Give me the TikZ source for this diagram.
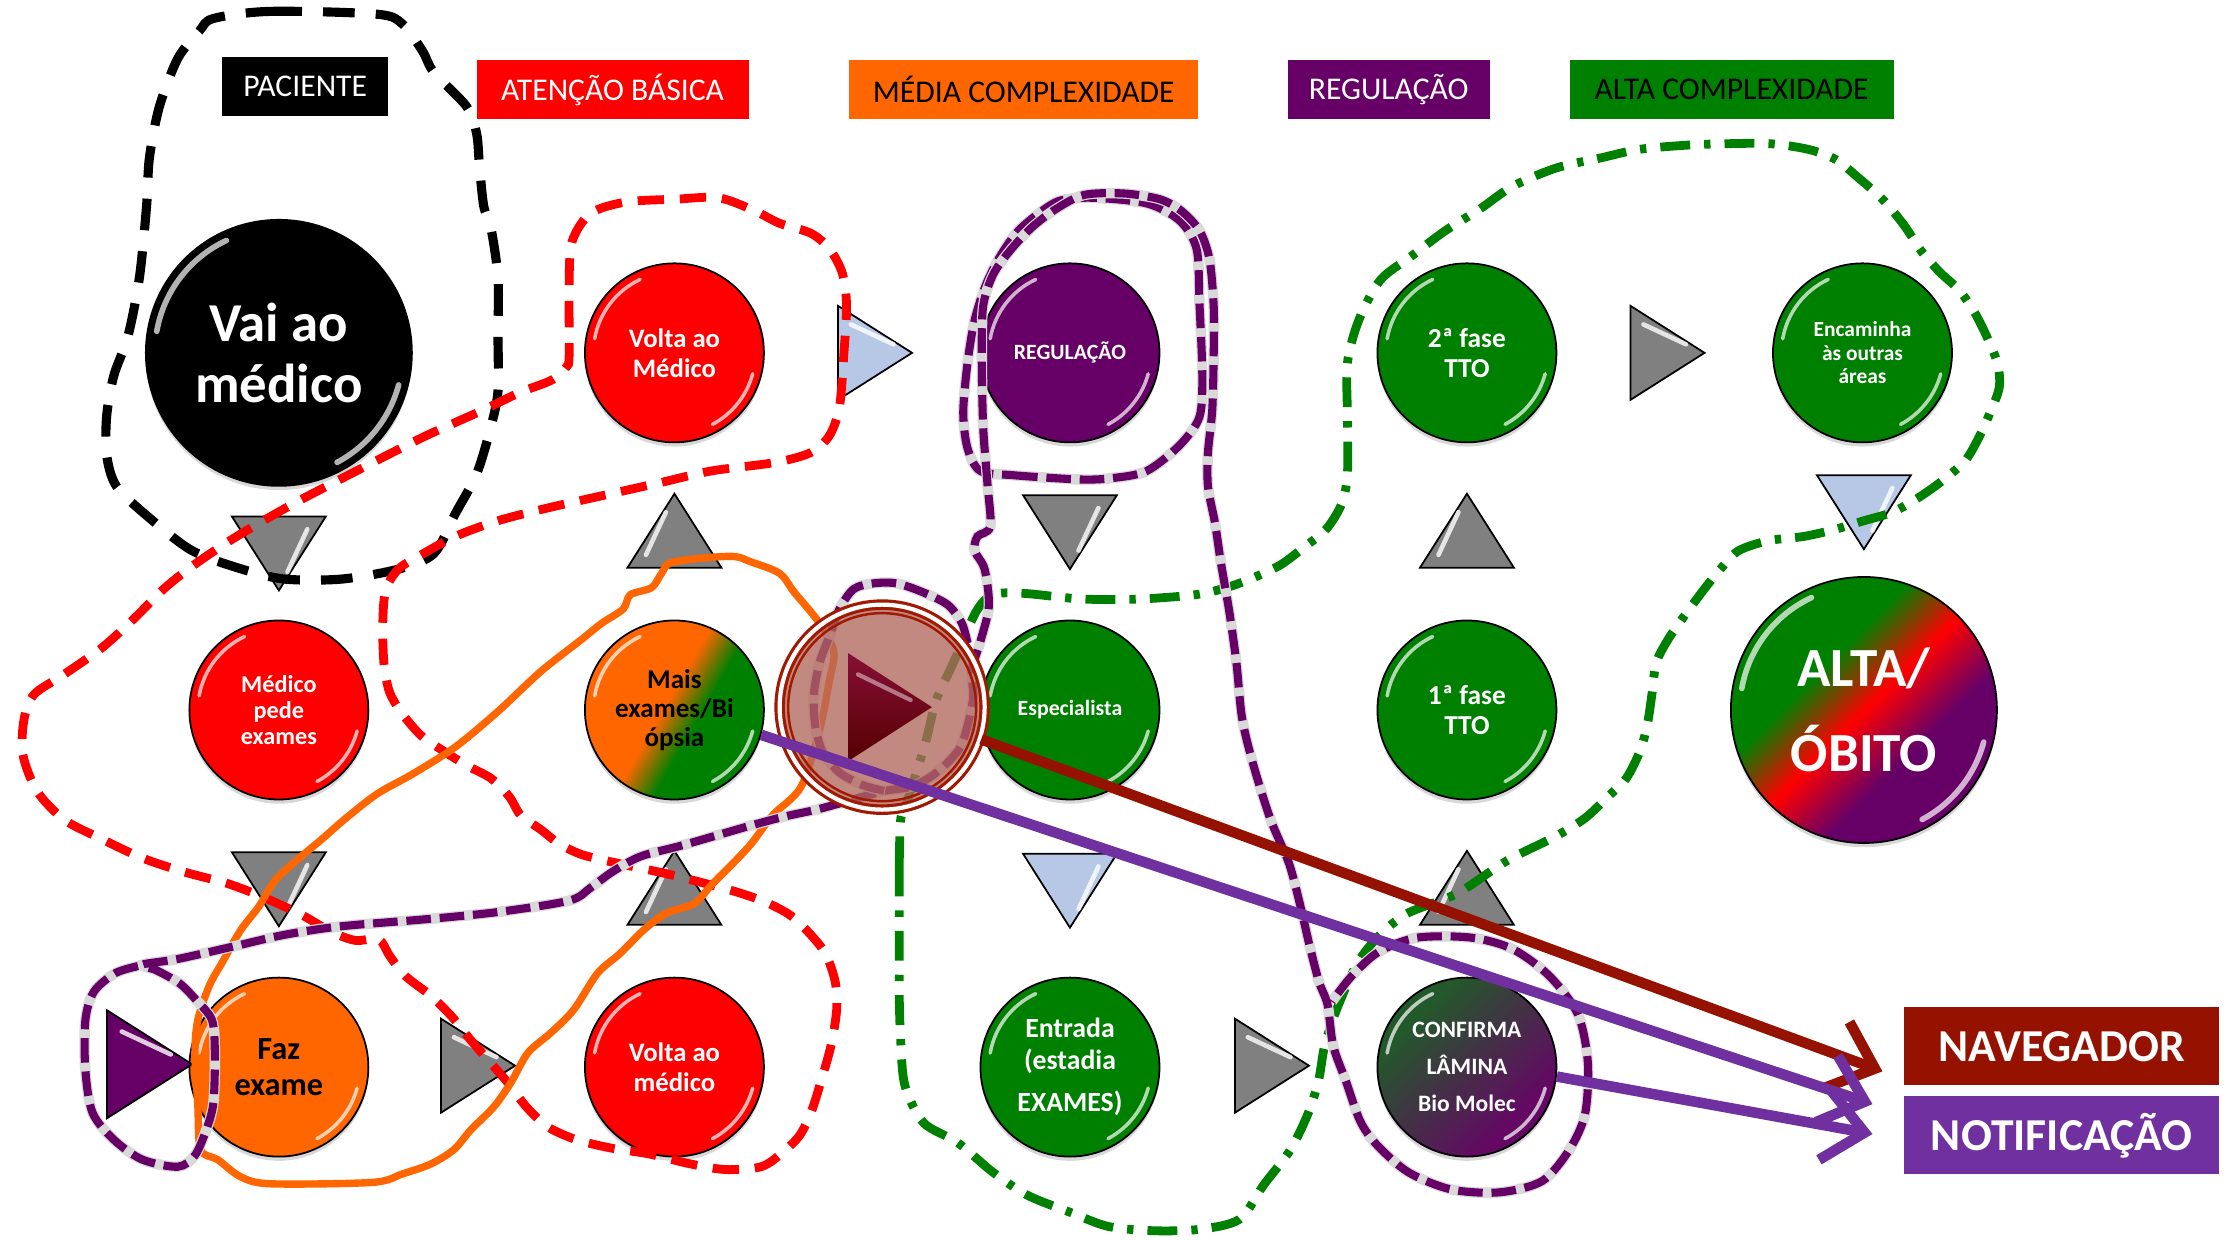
\documentclass[tikz,border=0pt]{standalone}
\usepackage{fontspec}
\setmainfont{Carlito}
\usetikzlibrary{arrows.meta,shadows}

\definecolor{abred}{RGB}{255,0,0}
\definecolor{mcorange}{RGB}{255,102,0}
\definecolor{regpurple}{RGB}{102,0,102}
\definecolor{acgreen}{RGB}{0,128,0}
\definecolor{navred}{RGB}{150,18,0}
\definecolor{notpurple}{RGB}{112,48,160}
\definecolor{triblue}{RGB}{182,200,230}
\definecolor{trigray}{RGB}{128,128,128}
\definecolor{playfill}{RGB}{178,104,94}
\definecolor{playring}{RGB}{160,25,0}
\definecolor{playtop}{RGB}{135,15,55}
\definecolor{playbot}{RGB}{85,0,0}
\definecolor{confgreen}{RGB}{35,88,42}
\definecolor{confpurple}{RGB}{100,8,100}

\pgfdeclareverticalshading{maisshade}{100bp}{color(0bp)=(acgreen); color(43bp)=(acgreen); color(53bp)=(mcorange); color(100bp)=(mcorange)}
\pgfdeclareverticalshading{altashade}{100bp}{color(0bp)=(regpurple); color(38bp)=(regpurple); color(50bp)=(abred); color(61bp)=(acgreen); color(100bp)=(acgreen)}
\pgfdeclareverticalshading{confshade}{100bp}{color(0bp)=(confpurple); color(30bp)=(confpurple); color(70bp)=(confgreen); color(100bp)=(confgreen)}

\tikzset{
  stage/.style={circle, draw=black, line width=0.5pt, minimum size=1.79cm, inner sep=0pt,
    align=center, text=white, font=\bfseries\fontsize{7.6}{8.5}\selectfont,
    drop shadow={shadow xshift=0pt, shadow yshift=-1.2pt, opacity=0.3}},
  bigstage/.style={stage, minimum size=2.66cm, font=\bfseries\fontsize{15.6}{17.4}\selectfont},
  gloss/.style={white, opacity=0.7, line cap=round},
  lbl/.style={rectangle, minimum height=0.59cm, inner sep=0pt, font=\fontsize{9}{11}\selectfont},
  tag/.style={rectangle, minimum width=3.15cm, minimum height=0.78cm, inner sep=0pt, text=white,
    font=\bfseries\fontsize{13}{15}\selectfont},
  tri/.style={draw=black, line width=0.5pt},
  graytri/.style={tri, fill=trigray},
  bluetri/.style={tri, fill=triblue},
  purptri/.style={tri, fill=regpurple},
  trigloss/.style={white, line width=1.3pt, line cap=round, opacity=0.8},
  pacline/.style={black, line width=2.6pt, dash pattern=on 9pt off 6pt},
  abline/.style={abred, line width=2.5pt, dash pattern=on 7.5pt off 4.5pt},
  mcline/.style={mcorange, line width=2.1pt, line join=round},
  regline/.style={regpurple, line width=2.3pt, dash pattern=on 7pt off 2.5pt,
    preaction={draw=black!15, line width=3pt, solid}},
  acline/.style={acgreen, line width=2.5pt, dash pattern=on 8.5pt off 4pt on 1.8pt off 4pt},
  playbtn/.style={circle, minimum size=2.05cm, inner sep=0pt, fill=playfill, fill opacity=0.78,
    draw=playring, line width=0.9pt, double=white, double distance=1.2pt},
  navarrow/.style={navred, line width=3pt, -{Straight Barb[length=4mm,width=7mm]}},
  notarrow/.style={notpurple, line width=3pt, -{Straight Barb[length=4mm,width=7mm]}}
}

% small glossy arrow between two stages
\newcommand{\flowtri}[4][1]{%
  \begin{scope}[shift={#3}, rotate=#4, scale=#1]
    \draw[#2] (0,0) -- (-52,-33) -- (-52,33) -- cycle;
    \draw[trigloss] (-43,-20) -- (-13,-6);
  \end{scope}}

\begin{document}
\begin{tikzpicture}[x=0.14228mm, y=-0.14228mm]
  \useasboundingbox (0,0) rectangle (1568,871);
  \fill[white] (0,0) rectangle (1568,871);

  \node[lbl, fill=black, text=white, minimum width=1.66cm] (lpac) at (214.5,61) {PACIENTE};
  \node[lbl, fill=abred, text=white, minimum width=2.72cm] (lab) at (430.5,63) {ATENÇÃO BÁSICA};
  \node[lbl, fill=mcorange, minimum width=3.49cm] (lmc) at (719.5,63) {MÉDIA COMPLEXIDADE};
  \node[lbl, fill=regpurple, text=white, minimum width=2.02cm] (lreg) at (976,63) {REGULAÇÃO};
  \node[lbl, fill=acgreen, minimum width=3.24cm] (lac) at (1217,63) {ALTA COMPLEXIDADE};

  \node[bigstage, fill=black] (vai) at (196,248) {Vai ao\\médico};
  \node[stage, fill=abred] (voltaA) at (474,248) {Volta ao\\Médico};
  \node[stage, fill=regpurple, font=\bfseries\fontsize{6.2}{7}\selectfont] (reg) at (752,248) {REGULAÇÃO};
  \node[stage, fill=acgreen, font=\bfseries\fontsize{7.8}{8.5}\selectfont] (fase2) at (1031,248) {2ª fase\\TTO};
  \node[stage, fill=acgreen, font=\bfseries\fontsize{6.1}{6.7}\selectfont] (enc) at (1309,248) {Encaminha\\às outras\\áreas};
  \node[stage, fill=abred, font=\bfseries\fontsize{6.9}{7.5}\selectfont] (pede) at (196,499) {Médico\\pede\\exames};
  \node[stage, shade, shading=maisshade, shading angle=60, text=black,
    font=\bfseries\fontsize{7.7}{8.3}\selectfont] (mais) at (474,499) {Mais\\exames/Bi\\ópsia};
  \node[stage, fill=acgreen, font=\bfseries\fontsize{6.2}{7}\selectfont] (esp) at (752,499) {Especialista};
  \node[stage, fill=acgreen, font=\bfseries\fontsize{7.8}{8.5}\selectfont] (fase1) at (1031,499) {1ª fase\\TTO};
  \node[bigstage, shade, shading=altashade, shading angle=45,
    font=\bfseries\fontsize{15.7}{24.3}\selectfont] (alta) at (1310,499) {ALTA/\\ÓBITO};
  \node[stage, fill=mcorange, text=black, font=\bfseries\fontsize{9.2}{10.1}\selectfont] (faz) at (196,750) {Faz\\exame};
  \node[stage, fill=abred] (voltaB) at (474,750) {Volta ao\\médico};
  \node[stage, fill=acgreen, font=\bfseries\fontsize{7.9}{8.9}\selectfont] (entr) at (752,750) {Entrada\\(estadia\\[3.2pt]EXAMES)};
  \node[stage, shade, shading=confshade, shading angle=45,
    font=\bfseries\fontsize{6.7}{10.5}\selectfont] (conf) at (1031,750) {CONFIRMA\\LÂMINA\\Bio Molec};

  \foreach \n/\r/\w in {vai/1.24/1.6, alta/1.24/1.6, voltaA/0.81/1, reg/0.81/1, fase2/0.81/1, enc/0.81/1,
      pede/0.81/1, mais/0.81/1, esp/0.81/1, fase1/0.81/1, faz/0.81/1, voltaB/0.81/1, entr/0.81/1, conf/0.81/1} {
    \draw[gloss, line width=\w pt] ([shift={(115:\r cm)}]\n.center) arc[start angle=115, end angle=170, radius=\r cm];
    \draw[gloss, line width=\w pt] ([shift={(-15:\r cm)}]\n.center) arc[start angle=-15, end angle=-62, radius=\r cm];
  }

  \flowtri{graytri}{(196,415)}{-90}
  \flowtri{graytri}{(474,347)}{90}
  \flowtri{bluetri}{(641,248)}{0}
  \flowtri{graytri}{(752,400)}{-90}
  \flowtri{graytri}{(1198,248)}{0}
  \flowtri{bluetri}{(1310,386)}{-90}
  \flowtri{graytri}{(1031,347)}{90}
  \flowtri{graytri}{(196,651)}{-90}
  \flowtri{graytri}{(474,598)}{90}
  \flowtri{bluetri}{(752,652)}{-90}
  \flowtri{graytri}{(1031,598)}{90}
  \flowtri{graytri}{(362,749)}{0}
  \flowtri{graytri}{(920,749)}{0}
  \flowtri[1.15]{purptri}{(135,748)}{0}

  \draw[pacline] plot[smooth cycle] coordinates {(150,13) (190,8) (265,10) (283,17) (297,36) (305,51)
    (328,75) (335,94) (337,117) (340,145) (345,160) (350,195) (350,236) (350,275) (345,300) (335,333)
    (320,361) (305,389) (280,400) (240,407) (200,407) (170,400) (135,387) (105,364) (82,342) (75,320)
    (75,292) (80,264) (90,236) (98,195) (103,145) (105,111) (112,75) (125,41) (140,22)};

  \draw[abline] plot[smooth cycle] coordinates {(400,250) (400,200) (402,170) (415,150) (440,142)
    (475,140) (505,139) (530,148) (548,157) (570,164) (583,175) (592,192) (595,215) (593,250) (590,286)
    (583,306) (570,318) (545,325) (500,331) (465,339) (425,348) (385,357) (350,366) (320,377) (296,390)
    (280,400) (271,415) (269,440) (270,468) (274,487) (283,502) (296,517) (312,528) (328,538) (345,547)
    (358,560) (366,573) (380,583) (393,593) (410,601) (440,608) (468,614) (496,621) (518,627) (538,634)
    (555,643) (568,655) (580,670) (587,690) (588,710) (584,735) (577,760) (570,782) (562,798) (550,810)
    (535,820) (510,822) (485,818) (456,811) (430,807) (405,801) (385,792) (370,778) (357,761) (343,745)
    (330,730) (318,715) (303,700) (285,686) (274,672) (266,660) (250,661) (233,655) (212,643) (186,631)
    (160,621) (130,613) (100,603) (70,589) (45,576) (26,556) (16,530) (17,505) (24,488) (45,474)
    (72,455) (95,434) (115,414) (135,398) (160,381) (185,366) (210,352) (235,339) (268,322) (300,306)
    (340,288) (365,276) (388,267) (398,258)};

  \draw[mcline] plot[smooth cycle] coordinates {(513,391) (528,395) (548,403) (558,416) (576,438)
    (586,458) (583,478) (576,513) (563,553) (543,573) (528,593) (513,609) (500,622) (488,635) (468,642)
    (452,654) (436,670) (420,684) (403,710) (387,726) (371,740) (359,761) (347,778) (331,794) (319,808)
    (303,818) (283,825) (262,831) (190,832) (169,827) (153,815) (141,808) (139,776) (137,740) (139,717)
    (147,693) (157,675) (169,654) (182,637) (194,618) (214,600) (226,590) (242,576) (265,558) (290,544)
    (320,525) (350,500) (380,472) (408,450) (423,438) (438,428) (443,418) (458,413) (465,403) (473,395)};

  \draw[acline] plot[smooth cycle] coordinates {(633,576) (632,609) (632,640) (632,672) (632,700)
    (633,731) (636,763) (649,789) (673,803) (698,824) (722,840) (752,852) (779,862) (811,865) (843,864)
    (871,857) (888,833) (907,808) (920,781) (927,758) (931,735) (940,708) (954,677) (969,658) (989,642)
    (1024,628) (1059,605) (1093,588) (1114,575) (1130,560) (1143,547) (1153,527) (1158,508) (1161,488)
    (1164,466) (1172,450) (1183,434) (1197,415) (1210,399) (1222,387) (1243,380) (1268,377) (1290,372)
    (1310,366) (1330,360) (1348,350) (1365,338) (1381,324) (1390,309) (1397,294) (1405,273) (1404,256)
    (1397,238) (1388,220) (1377,204) (1363,191) (1350,176) (1338,158) (1323,140) (1305,124) (1290,112)
    (1271,105) (1244,101) (1214,101) (1186,102) (1152,105) (1125,111) (1094,118) (1063,131) (1040,147)
    (1016,162) (992,180) (970,197) (955,225) (947,255) (947,293) (947,333) (943,354) (932,372) (916,385)
    (900,397) (881,406) (862,413) (840,418) (801,421) (760,421) (719,417) (698,418) (686,430) (670,466)
    (658,492) (651,520) (644,543) (637,565)};

  \draw[regline] plot[smooth cycle] coordinates {(689,331) (712,334) (759,337) (782,336) (806,331)
    (829,313) (843,293) (845,263) (843,213) (841,175) (829,155) (806,143) (768,139) (745,141) (730,150)
    (715,163) (703,180) (693,200) (685,225) (680,255) (677,290) (680,315)};

  \draw[regline] plot[smooth] coordinates {(97,679) (81,684) (66,697) (60,717) (60,752) (65,782)
    (80,801) (100,815) (125,820) (137,812) (145,794) (150,775) (151,740) (149,717) (138,703) (126,691)
    (110,682) (100,678) (125,674) (165,665) (200,657) (240,651) (300,646) (350,641) (400,633) (415,624)
    (430,613) (450,602) (480,594) (525,581) (551,574) (574,569) (596,563) (621,556) (640,553) (654,546)
    (665,537) (675,525) (680,510) (684,490) (683,471) (689,451) (695,426) (692,400) (685,387) (687,377)
    (696,370) (694,340) (691,300) (690,250) (691,215) (698,193) (710,176) (725,160) (742,147) (762,137)
    (790,136) (815,140) (830,148) (843,162) (850,182) (853,215) (853,250) (852,288) (849,318) (849,342)
    (854,368) (858,395) (864,430) (869,466) (873,505) (881,538) (893,576) (906,607) (914,637) (920,663)
    (927,690) (933,706) (937,735) (946,760) (956,788) (968,805) (990,824) (1020,836) (1054,838)
    (1084,830) (1103,808) (1114,783) (1116,747) (1109,713) (1089,686) (1063,667) (1034,659) (996,659)
    (969,669) (950,686) (936,704)};

  \draw[regline] plot[smooth] coordinates {(680,452) (676,438) (666,425) (648,416) (630,410) (614,410)
    (600,414) (590,428) (583,447) (576,466) (572,488) (573,510) (578,528) (590,543) (607,552) (622,556)};

  \node[playbtn] (play) at (620,497) {};
  \draw[playring, line width=0.7pt] (play.center) circle[radius=0.94cm];
  \shade[top color=playtop, bottom color=playbot] (596,459) -- (655,497) -- (596,535) -- cycle;
  \draw[white, opacity=0.45, line width=1.2pt, line cap=round] (603,474) -- (640,492);

  \node[tag, fill=navred] (nav) at (1449,735.5) {NAVEGADOR};
  \node[tag, fill=notpurple] (notif) at (1449,798) {NOTIFICAÇÃO};
  \coordinate (navtip) at (1323,753);
  \coordinate (notiftipA) at (1316,776);
  \coordinate (notiftipB) at (1316,797);
  \draw[navarrow] (play.-18) -- (navtip);
  \draw[notarrow] (mais.-16) -- (notiftipA);
  \draw[notarrow] (conf.-6) -- (notiftipB);
\end{tikzpicture}
\end{document}
